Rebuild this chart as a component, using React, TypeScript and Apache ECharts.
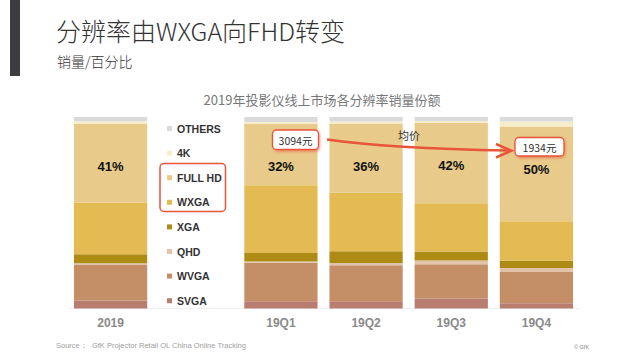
import React, { useEffect, useRef } from "react";
import * as echarts from "echarts";

const CATEGORIES = ["2019", "", "19Q1", "19Q2", "19Q3", "19Q4"];
const SVGA = [4.2, "-", 3.8, 3.8, 5.2, 2.8];
const WVGA = [18.5, "-", 20.1, 18.8, 17.9, 16.3];
const QHD = [0.9, "-", 0.7, 1.2, 2.0, 2.1];
const XGA = [4.7, "-", 4.4, 6.1, 4.7, 3.8];
const WXGA = [27, "-", 35.4, 30.5, 25.2, 20.5];
const FULL_HD = [41, "-", 32, 36, 42, 49.5];
const K4 = [1.5, "-", 1, 1.2, 0.9, 2.6];
const OTHERS = [2.2, "-", 2.6, 2.4, 2.1, 2.4];

const LEGEND_ORDER = ["OTHERS", "4K", "FULL HD", "WXGA", "XGA", "QHD", "WVGA", "SVGA"];

const TITLE = "分辨率由WXGA向FHD转变";
const SUBTITLE = "销量/百分比";
const CHART_TITLE = "2019年投影仪线上市场各分辨率销量份额";
const PRICE_START = "3094元";
const PRICE_END = "1934元";
const PRICE_LABEL = "均价";
const SOURCE = "Source：  GfK Projector Retail OL China Online Tracking";
const COPYRIGHT = "© GfK";

const CJK = '"Noto Sans CJK SC", "Liberation Sans", sans-serif';
const LATIN = '"Liberation Sans", Arial, sans-serif';
const RED = "#e8553a";

export default function App() {
  const ref = useRef<HTMLDivElement>(null);
  useEffect(() => {
    if (!ref.current) return;
    const chart = echarts.init(ref.current, null, { renderer: "svg" });
    const mk = (name: string, data: any[], color: string, extra: any = {}) => ({
      name,
      type: "bar",
      stack: "total",
      data,
      barCategoryGap: "14%",
      itemStyle: { color },
      emphasis: { disabled: true },
      ...extra,
    });
    const boxStyle = {
      fill: "#fff",
      stroke: RED,
      lineWidth: 1.3,
      shadowColor: "rgba(232,85,58,0.55)",
      shadowBlur: 2,
      shadowOffsetX: 1,
      shadowOffsetY: 1.5,
    };
    const top = (o: any) => ({ z: 100, zlevel: 0, ...o });
    chart.setOption({
      animation: false,
      backgroundColor: "#fff",
      grid: { left: 68, right: 61, top: 117, bottom: 52.5 },
      xAxis: {
        type: "category",
        data: CATEGORIES,
        axisLine: { show: true, lineStyle: { color: "#f0f0f0", width: 1 } },
        axisTick: { show: false },
        axisLabel: {
          color: "#8a8a8a",
          fontSize: 12,
          fontWeight: "bold",
          fontFamily: LATIN,
          margin: 8,
        },
      },
      yAxis: { type: "value", min: 0, max: 100, show: false },
      legend: {
        orient: "vertical",
        left: 162,
        top: 117,
        itemWidth: 5,
        itemHeight: 5,
        itemGap: 11.6,
        icon: "rect",
        selectedMode: false,
        data: LEGEND_ORDER,
        textStyle: {
          color: "#333",
          fontSize: 10.5,
          fontWeight: "bold",
          fontFamily: LATIN,
          lineHeight: 12,
          padding: [1, 0, 0, 0],
        },
      },
      series: [
        mk("SVGA", SVGA, "#b87d6f"),
        mk("WVGA", WVGA, "#c48f66"),
        mk("QHD", QHD, "#e2c3aa"),
        mk("XGA", XGA, "#ad8b15"),
        mk("WXGA", WXGA, "#e3bb52"),
        mk("FULL HD", FULL_HD, "#e8ca8a", {
          label: {
            show: true,
            position: "insideTop",
            distance: 36,
            formatter: (p: any) => Math.round(p.value) + "%",
            color: "#111",
            fontSize: 13,
            fontWeight: "bold",
            fontFamily: LATIN,
          },
        }),
        mk("4K", K4, "#f6edcb"),
        mk("OTHERS", OTHERS, "#dadadc"),
      ],
      graphic: [
        top({ type: "rect", shape: { x: 10, y: 0, width: 10, height: 76 }, style: { fill: "#3b3d41" } }),
        top({
          type: "text",
          x: 56,
          y: 30,
          style: { text: TITLE, font: `300 25px ${CJK}`, fill: "#333", verticalAlign: "middle" },
        }),
        top({
          type: "text",
          x: 57,
          y: 61,
          style: { text: SUBTITLE, font: `300 14px ${CJK}`, fill: "#333", verticalAlign: "middle" },
        }),
        top({
          type: "text",
          x: 322,
          y: 99,
          style: { text: CHART_TITLE, font: `13px ${CJK}`, fill: "#777", align: "center", verticalAlign: "middle" },
        }),
        top({
          type: "rect",
          shape: { x: 160, y: 163.5, width: 65.5, height: 48, r: 4 },
          style: { fill: "none", stroke: RED, lineWidth: 1.5 },
        }),
        top({
          type: "bezierCurve",
          shape: { x1: 327, y1: 139.5, cpx1: 388, cpy1: 148.4, x2: 509, y2: 150.6 },
          style: { stroke: RED, lineWidth: 2.5, fill: "none" },
        }),
        top({
          type: "polyline",
          shape: { points: [[496, 144], [511.5, 150.7], [496, 157.5]] },
          style: { stroke: RED, lineWidth: 2.5, fill: "none", lineJoin: "miter" },
        }),
        top({
          type: "text",
          x: 409,
          y: 135,
          style: { text: PRICE_LABEL, font: `11px ${CJK}`, fill: "#333", align: "center", verticalAlign: "middle" },
        }),
        top({ type: "rect", shape: { x: 272.5, y: 130, width: 46, height: 19.5, r: 4 }, style: boxStyle }),
        top({
          type: "text",
          x: 295.5,
          y: 140,
          style: { text: PRICE_START, font: `10.5px ${CJK}`, fill: "#333", align: "center", verticalAlign: "middle" },
        }),
        top({ type: "rect", shape: { x: 515, y: 137.5, width: 49, height: 18.5, r: 4 }, style: boxStyle }),
        top({
          type: "text",
          x: 539.5,
          y: 147,
          style: { text: PRICE_END, font: `10.5px ${CJK}`, fill: "#333", align: "center", verticalAlign: "middle" },
        }),
        top({
          type: "text",
          x: 56,
          y: 345,
          style: { text: SOURCE, font: `7.5px ${LATIN}`, fill: "#a0a0a0", verticalAlign: "middle" },
        }),
        top({
          type: "text",
          x: 574,
          y: 347,
          style: { text: COPYRIGHT, font: `5.5px ${LATIN}`, fill: "#888", verticalAlign: "middle" },
        }),
      ],
    });
    return () => chart.dispose();
  }, []);
  return (
    <div
      ref={ref}
      style={{ position: "fixed", left: 0, top: 0, width: 640, height: 361, background: "#fff" }}
    />
  );
}
